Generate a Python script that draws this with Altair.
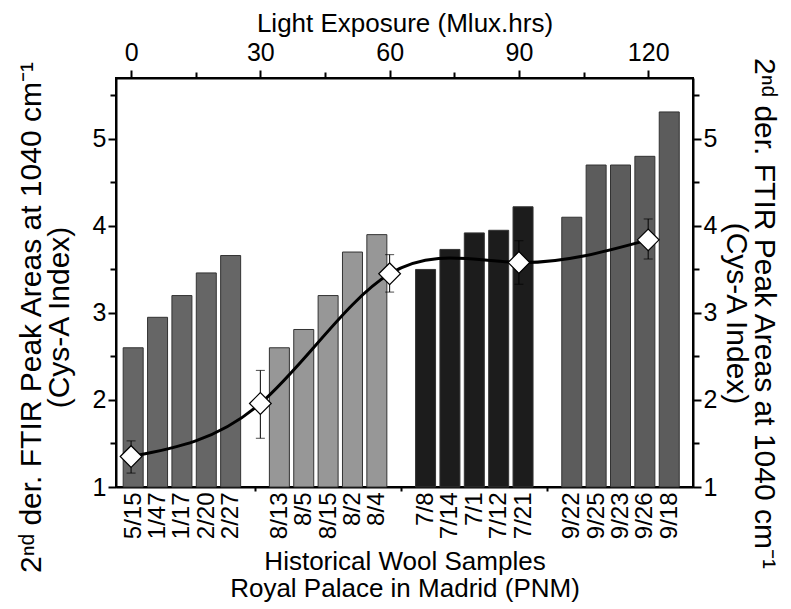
import json
import altair as alt
import pandas as pd

# ---- data ----
categories = ["5/15", "1/47", "1/17", "2/20", "2/27",
              "8/13", "8/5", "8/15", "8/2", "8/4",
              "7/8", "7/14", "7/1", "7/12", "7/21",
              "9/22", "9/25", "9/23", "9/26", "9/18"]
cys_values = [2.60, 2.95, 3.20, 3.46, 3.66,
              2.60, 2.81, 3.20, 3.70, 3.90,
              3.50, 3.73, 3.92, 3.95, 4.22,
              4.10, 4.70, 4.70, 4.80, 5.31]
groups = ["A"] * 5 + ["B"] * 5 + ["C"] * 5 + ["D"] * 5
group_colors = ["#666666", "#979797", "#1c1c1c", "#5c5c5c"]

exposure = [0, 30, 60, 90, 120]
exp_mean = [1.35, 1.96, 3.45, 3.58, 3.84]
exp_low = [1.16, 1.56, 3.24, 3.33, 3.62]
exp_high = [1.53, 2.34, 3.67, 3.83, 4.08]

# ---- tables ----
slot = []
for i in range(len(categories)):
    slot.append((i // 5) * 6 + (i % 5))
bars = pd.DataFrame({"slot": slot, "cat": categories, "val": cys_values, "grp": groups})
pts = pd.DataFrame({"exp": exposure, "mean": exp_mean, "lo": exp_low, "hi": exp_high})

n_slots = 23
slot_labels = [""] * n_slots
for s, c in zip(slot, categories):
    slot_labels[s] = c

FONT = "Liberation Sans"
Y_DOMAIN = [1, 5.7]
ytitle = ["2ⁿᵈ der. FTIR Peak Areas at 1040 cm⁻¹", "(Cys-A Index)"]
half_vals = [1 + 0.5 * k for k in range(10)]
major_test = "datum.value % 1 == 0"

left_axis = alt.Axis(
    orient="left", values=half_vals,
    labelExpr=f"{major_test} ? format(datum.value, 'd') : ''",
    tickSize={"condition": {"test": major_test, "value": 8}, "value": 6},
    title=ytitle, titlePadding=18, titleY=239, titleLineHeight=28, titleFontSize=30,
    labelPadding=2, grid=False,
)
right_axis = alt.Axis(
    orient="right", values=half_vals,
    labelExpr=f"{major_test} ? format(datum.value, 'd') : ''",
    tickSize={"condition": {"test": major_test, "value": 8}, "value": 6},
    title=ytitle, titlePadding=4, titleY=235, titleLineHeight=28, titleFontSize=30,
    labelPadding=2, grid=False,
)
bottom_axis = alt.Axis(
    orient="bottom", values=list(range(n_slots)),
    labelExpr=f"{json.dumps(slot_labels)}[round(datum.value)]",
    labelAngle=270, labelAlign="right", labelBaseline="middle",
    labelFontSize=24, labelPadding=5,
    tickSize={"condition": {"test": "indexof([5, 11, 17], datum.value) >= 0", "value": 4}, "value": 0},
    title=["Historical Wool Samples", "Royal Palace in Madrid (PNM)"],
    titleLineHeight=27, titlePadding=10, grid=False,
)
top_test = "datum.value % 30 == 0"
top_axis = alt.Axis(
    orient="top", values=list(range(0, 121, 15)),
    labelExpr=f"{top_test} ? format(datum.value, 'd') : ''",
    tickSize={"condition": {"test": top_test, "value": 8}, "value": 6},
    title="Light Exposure (Mlux.hrs)", titlePadding=4, labelPadding=5, grid=False,
)

ybar = alt.Y("val:Q", scale=alt.Scale(domain=Y_DOMAIN, nice=False, zero=False), axis=left_axis)
bar_layer = alt.Chart(bars).mark_bar(width=20, stroke="#333333", strokeWidth=1).encode(
    x=alt.X("slot:Q", scale=alt.Scale(domain=[-0.5, 22.77], nice=False, zero=False), axis=bottom_axis),
    y=ybar,
    y2=alt.datum(1),
    color=alt.Color("grp:N", scale=alt.Scale(domain=["A", "B", "C", "D"], range=group_colors), legend=None),
)

xtop = alt.X("exp:Q", scale=alt.Scale(domain=[-3.5, 130.4], nice=False, zero=False), axis=top_axis)
yscale = alt.Scale(domain=Y_DOMAIN, nice=False, zero=False)

line_layer = alt.Chart(pts).mark_line(interpolate="natural", color="black", strokeWidth=3).encode(
    x=xtop, y=alt.Y("mean:Q", scale=yscale, axis=right_axis)
)
err_layer = alt.Chart(pts).mark_errorbar(
    ticks={"size": 9, "color": "black", "strokeWidth": 1}, rule={"color": "black", "strokeWidth": 1}
).encode(
    x=xtop, y=alt.Y("lo:Q", scale=yscale, axis=right_axis), y2="hi:Q"
)
pt_layer = alt.Chart(pts).mark_point(
    shape="diamond", filled=True, fill="white", stroke="black", strokeWidth=1.2, size=470, opacity=1
).encode(
    x=xtop, y=alt.Y("mean:Q", scale=yscale, axis=right_axis)
)

top_group = alt.layer(line_layer, err_layer, pt_layer)

chart = alt.layer(bar_layer, top_group).resolve_scale(
    x="independent", y="independent"
).properties(
    width=577, height=409,
    padding={"left": 8, "right": 2, "top": 2, "bottom": 0},
).configure(
    font=FONT,
).configure_axis(
    labelFont=FONT, titleFont=FONT, labelFontSize=25, titleFontSize=26,
    titleFontWeight="normal", labelColor="black", titleColor="black",
    domainColor="black", tickColor="black", domainWidth=2, tickWidth=2,
).configure_view(
    stroke="black", strokeWidth=2,
)

chart.save("out.html", embed_options={"renderer": "svg", "actions": False})
